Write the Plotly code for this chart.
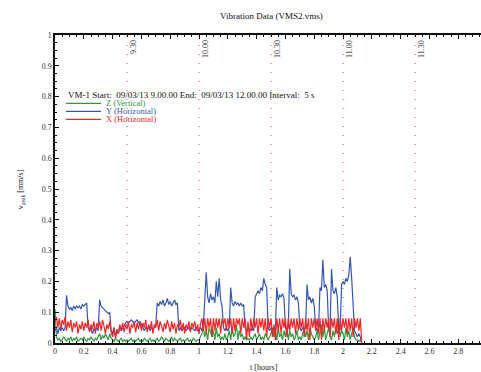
import numpy as np
import plotly.graph_objects as go

# sampling times (hours), one value every 0.01 h
t = [round(i * 0.01, 2) for i in range(214)]

z_vertical = [
    0.11, 0.02, 0.01, 0.015, 0.005, 0.01, 0.02, 0.01, 0.005, 0.015,
    0.01, 0.02, 0.005, 0.015, 0.01, 0.02, 0.005, 0.01, 0.015, 0.01,
    0.02, 0.01, 0.005, 0.015, 0.01, 0.02, 0.01, 0.005, 0.015, 0.01,
    0.02, 0.03, 0.01, 0.025, 0.015, 0.03, 0.02, 0.01, 0.03, 0.015,
    0.01, 0.005, 0.015, 0.01, 0.005, 0.01, 0.015, 0.005, 0.01, 0.005,
    0.01, 0.005, 0.01, 0.015, 0.005, 0.01, 0.005, 0.01, 0.015, 0.005,
    0.01, 0.005, 0.015, 0.01, 0.005, 0.01, 0.015, 0.005, 0.01, 0.005,
    0.01, 0.015, 0.005, 0.01, 0.02, 0.01, 0.005, 0.015, 0.01, 0.005,
    0.01, 0.02, 0.005, 0.015, 0.01, 0.005, 0.01, 0.015, 0.005, 0.01,
    0.005, 0.01, 0.015, 0.005, 0.01, 0.005, 0.015, 0.01, 0.005, 0.01,
    0.01, 0.02, 0.03, 0.05, 0.02, 0.04, 0.01, 0.05, 0.03, 0.02,
    0.04, 0.01, 0.05, 0.02, 0.03, 0.01, 0.02, 0.01, 0.03, 0.01,
    0.02, 0.04, 0.01, 0.05, 0.02, 0.03, 0.06, 0.01, 0.04, 0.02,
    0.03, 0.01, 0.02, 0.01, 0.015, 0.01, 0.02, 0.01, 0.02, 0.03,
    0.01, 0.02, 0.03, 0.01, 0.02, 0.01, 0.03, 0.02, 0.01, 0.02,
    0.03, 0.05, 0.02, 0.04, 0.01, 0.05, 0.02, 0.03, 0.01, 0.04,
    0.02, 0.05, 0.01, 0.04, 0.02, 0.03, 0.01, 0.02, 0.04, 0.01,
    0.02, 0.01, 0.03, 0.05, 0.02, 0.04, 0.01, 0.05, 0.03, 0.02,
    0.01, 0.02, 0.04, 0.01, 0.03, 0.06, 0.02, 0.05, 0.01, 0.03,
    0.05, 0.02, 0.01, 0.04, 0.02, 0.05, 0.03, 0.06, 0.02, 0.04,
    0.03, 0.01, 0.05, 0.02, 0.04, 0.01, 0.03, 0.05, 0.02, 0.01,
    0.01, 0.005, 0.01, 0.0,
]

y_horizontal = [
    0.04, 0.05, 0.03, 0.05, 0.04, 0.05, 0.04, 0.05, 0.155, 0.12,
    0.11, 0.115, 0.105, 0.12, 0.11, 0.12, 0.115, 0.12, 0.11, 0.125,
    0.12, 0.125, 0.13, 0.05, 0.04, 0.05, 0.03, 0.045, 0.04, 0.05,
    0.04, 0.14, 0.12, 0.115, 0.11, 0.105, 0.1, 0.095, 0.1, 0.04,
    0.03, 0.05, 0.02, 0.04, 0.03, 0.05, 0.04, 0.05, 0.06, 0.065,
    0.07, 0.065, 0.07, 0.075, 0.07, 0.065, 0.07, 0.075, 0.065, 0.07,
    0.06, 0.05, 0.04, 0.05, 0.045, 0.05, 0.04, 0.05, 0.045, 0.05,
    0.06, 0.13, 0.12, 0.135, 0.125, 0.14, 0.12, 0.13, 0.145, 0.125,
    0.135, 0.12, 0.13, 0.14, 0.125, 0.13, 0.04, 0.05, 0.04, 0.045,
    0.05, 0.04, 0.045, 0.05, 0.04, 0.05, 0.045, 0.04, 0.05, 0.04,
    0.045, 0.05, 0.04, 0.06, 0.14, 0.23, 0.15, 0.13, 0.16, 0.14,
    0.15, 0.13, 0.2, 0.15, 0.21, 0.14, 0.12, 0.05, 0.04, 0.05,
    0.04, 0.05, 0.18, 0.13, 0.12, 0.135, 0.125, 0.13, 0.12, 0.13,
    0.12, 0.125, 0.05, 0.04, 0.05, 0.045, 0.04, 0.05, 0.04, 0.15,
    0.16, 0.17, 0.16, 0.18, 0.17, 0.21, 0.19, 0.18, 0.05, 0.04,
    0.05, 0.04, 0.05, 0.04, 0.18, 0.14, 0.155, 0.15, 0.16, 0.145,
    0.05, 0.04, 0.05, 0.24, 0.16, 0.15, 0.155, 0.14, 0.15, 0.13,
    0.05, 0.04, 0.05, 0.04, 0.05, 0.19, 0.14, 0.15, 0.13, 0.145,
    0.12, 0.05, 0.04, 0.05, 0.18, 0.17, 0.27, 0.18, 0.19, 0.17,
    0.05, 0.04, 0.24, 0.17, 0.16, 0.18, 0.15, 0.05, 0.04, 0.19,
    0.2, 0.19, 0.21, 0.2, 0.22, 0.28, 0.21, 0.14, 0.04, 0.03,
    0.02, 0.03, 0.02, 0.0,
]

x_horizontal = [
    0.07, 0.085, 0.05, 0.08, 0.045, 0.075, 0.06, 0.085, 0.04, 0.07,
    0.05, 0.075, 0.035, 0.065, 0.05, 0.07, 0.03, 0.06, 0.045, 0.07,
    0.04, 0.065, 0.05, 0.075, 0.035, 0.06, 0.045, 0.07, 0.03, 0.065,
    0.05, 0.07, 0.04, 0.075, 0.055, 0.03, 0.06, 0.045, 0.07, 0.035,
    0.02, 0.05, 0.015, 0.045, 0.03, 0.06, 0.04, 0.065, 0.035, 0.06,
    0.045, 0.07, 0.03, 0.06, 0.05, 0.07, 0.035, 0.065, 0.045, 0.07,
    0.04, 0.065, 0.05, 0.075, 0.035, 0.06, 0.045, 0.07, 0.03, 0.06,
    0.05, 0.075, 0.04, 0.07, 0.055, 0.035, 0.065, 0.045, 0.075, 0.05,
    0.035, 0.07, 0.045, 0.065, 0.03, 0.06, 0.05, 0.075, 0.04, 0.065,
    0.03, 0.06, 0.045, 0.07, 0.035, 0.065, 0.05, 0.07, 0.04, 0.06,
    0.03, 0.06, 0.08, 0.04, 0.08, 0.03, 0.08, 0.05, 0.08, 0.02,
    0.08, 0.04, 0.08, 0.05, 0.08, 0.03, 0.08, 0.06, 0.08, 0.04,
    0.08, 0.05, 0.08, 0.03, 0.08, 0.04, 0.08, 0.06, 0.08, 0.03,
    0.08, 0.05, 0.08, 0.01, 0.07, 0.02, 0.08, 0.04, 0.08, 0.05,
    0.08, 0.03, 0.08, 0.05, 0.08, 0.04, 0.08, 0.02, 0.08, 0.05,
    0.08, 0.02, 0.06, 0.01, 0.08, 0.04, 0.08, 0.03, 0.08, 0.05,
    0.08, 0.02, 0.08, 0.04, 0.08, 0.05, 0.08, 0.03, 0.08, 0.04,
    0.08, 0.05, 0.08, 0.02, 0.08, 0.04, 0.08, 0.01, 0.08, 0.05,
    0.08, 0.04, 0.08, 0.03, 0.08, 0.01, 0.08, 0.04, 0.08, 0.05,
    0.08, 0.02, 0.08, 0.05, 0.08, 0.03, 0.08, 0.01, 0.08, 0.04,
    0.08, 0.05, 0.08, 0.03, 0.08, 0.04, 0.08, 0.02, 0.08, 0.05,
    0.08, 0.04, 0.08, 0.0,
]

series_names = ["Z (Vertical)", "Y (Horizontal)", "X (Horizontal)"]
series_colors = ["#2e9a3e", "#3556b8", "#f02525"]

marker_times = [0.5, 1.0, 1.5, 2.0, 2.5]
marker_labels = ["9.30", "10.00", "10.30", "11.00", "11.30"]

header = "VM-1 Start:  09/03/13 9.00.00 End:  09/03/13 12.00.00 Interval:  5 s"

FONT = "Liberation Serif, Times New Roman, serif"

fig = go.Figure()
for name, vals, col in zip(series_names, [z_vertical, y_horizontal, x_horizontal], series_colors):
    fig.add_trace(go.Scatter(x=t, y=vals, mode="lines", name=name,
                             line=dict(color=col, width=1.2), showlegend=False))

for mt, ml in zip(marker_times, marker_labels):
    fig.add_shape(type="line", x0=mt, x1=mt, xref="x", y0=0, y1=1, yref="paper",
                  line=dict(color="#e08a8a", width=1.5, dash="1px,8px"), layer="below")
    fig.add_annotation(x=mt, xref="x", y=1, yref="paper", text=ml, textangle=-90,
                       showarrow=False, xanchor="center", yanchor="top",
                       xshift=6, yshift=-3, font=dict(family=FONT, size=8, color="#333"))

# legend block (manual)
fig.add_annotation(x=0.076, xref="x", y=0.806, yref="y", text=header, showarrow=False,
                   xanchor="left", yanchor="middle", font=dict(family=FONT, size=9, color="#111"))
legend_y = [0.778, 0.752, 0.726]
for ly, name, col in zip(legend_y, series_names, series_colors):
    fig.add_shape(type="line", x0=0.076, x1=0.32, xref="x", y0=ly, y1=ly, yref="y",
                  line=dict(color=col, width=1.2))
    fig.add_annotation(x=0.34, xref="x", y=ly, yref="y", text=name, showarrow=False,
                       xanchor="left", yanchor="middle", font=dict(family=FONT, size=8.5, color=col))

fig.add_annotation(x=0.509, xref="paper", y=1.062, yref="paper", text="Vibration Data (VMS2.vms)",
                   showarrow=False, yanchor="middle",
                   font=dict(family=FONT, size=9, color="#111"))
fig.add_annotation(x=-0.079, xref="paper", y=0.5, yref="paper", text="v<sub>peak</sub> [mm/s]",
                   textangle=-90, showarrow=False, xanchor="center", yanchor="middle",
                   font=dict(family=FONT, size=8, color="#222"))
fig.add_annotation(x=0.49, xref="paper", y=-0.078, yref="paper", text="t [hours]",
                   showarrow=False, yanchor="middle",
                   font=dict(family=FONT, size=8, color="#222"))

fig.update_layout(
    width=481, height=372,
    margin=dict(l=55, r=0, t=35, b=29),
    paper_bgcolor="white", plot_bgcolor="white",
    font=dict(family=FONT, size=8, color="#333"),
    xaxis=dict(range=[0, 2.958], dtick=0.2, tick0=0, showgrid=False, zeroline=False,
               showline=True, linecolor="#111", linewidth=1.5, mirror="ticks",
               ticks="inside", ticklen=4, tickcolor="#111", tickfont=dict(size=8),
               minor=dict(dtick=0.05, ticks="inside", ticklen=2, tickcolor="#111")),
    yaxis=dict(range=[0, 1], dtick=0.1, showgrid=False, zeroline=False,
               showline=True, linecolor="#111", linewidth=1.5,
               ticks="inside", ticklen=4, tickcolor="#111", tickfont=dict(size=8),
               minor=dict(dtick=0.025, ticks="inside", ticklen=2, tickcolor="#111")),
)

fig.write_html("out.html")
